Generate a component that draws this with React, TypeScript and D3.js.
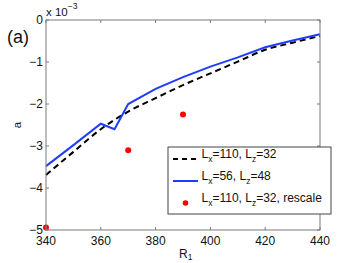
import React from "react";
import * as d3 from "d3";

const rValues = [340, 350, 360, 370, 380, 390, 400, 410, 420, 430, 440];
const dashedA = [-3.69, -3.14, -2.6, -2.18, -1.86, -1.55, -1.27, -0.99, -0.71, -0.54, -0.38];
const blueR = [340, 350, 360, 365, 370, 380, 390, 400, 410, 420, 430, 440];
const blueA = [-3.48, -2.98, -2.47, -2.6, -2.0, -1.64, -1.36, -1.11, -0.89, -0.65, -0.49, -0.34];
const dotR = [340, 370, 390];
const dotA = [-4.94, -3.1, -2.25];
const xTicks = [340, 360, 380, 400, 420, 440];
const yTicks = [0, -1, -2, -3, -4, -5];

const W = 354;
const H = 263;
const left = 46, right = 320, top = 20, bottom = 230;
const FONT = "'Liberation Sans', Arial, Helvetica, sans-serif";

export default function App() {
  const x = d3.scaleLinear().domain([340, 440]).range([left, right]);
  const y = d3.scaleLinear().domain([-5, 0]).range([bottom, top]);
  const lineDash = d3
    .line<number>()
    .x((_, i) => x(rValues[i]))
    .y((d) => y(d))
    .curve(d3.curveMonotoneX);
  const lineBlue = d3
    .line<number>()
    .x((_, i) => x(blueR[i]))
    .y((d) => y(d));
  const axisColor = "#7a7a7a";
  const textColor = "#111";
  const fmt = (v: number) => (v < 0 ? "\u2212" + Math.abs(v) : String(v));

  const legendRows = [
    { label: ["110", "32"], extra: "", kind: "dash" },
    { label: ["56", "48"], extra: "", kind: "blue" },
    { label: ["110", "32"], extra: ", rescale", kind: "dot" },
  ];
  const rowBase = [159, 181, 203];

  return (
    <svg width={W} height={H} style={{ position: "absolute", left: 0, top: 0, background: "#fff" }}>
      <rect x={0} y={0} width={W} height={H} fill="#fff" />
      {/* data */}
      <path d={lineDash(dashedA) || ""} fill="none" stroke="#000" strokeWidth={2} strokeDasharray="6,4" />
      <path d={lineBlue(blueA) || ""} fill="none" stroke="#1f3dff" strokeWidth={2} />
      {dotR.map((r, i) => (
        <circle key={i} cx={x(r)} cy={y(dotA[i])} r={3} fill="#ff0000" />
      ))}
      {/* axes box */}
      <rect x={left} y={top} width={right - left} height={bottom - top} fill="none" stroke={axisColor} strokeWidth={1} />
      {xTicks.map((t) => (
        <g key={"x" + t}>
          <line x1={x(t)} x2={x(t)} y1={bottom} y2={bottom - 3} stroke={axisColor} />
          <line x1={x(t)} x2={x(t)} y1={top} y2={top + 3} stroke={axisColor} />
          <text x={x(t)} y={245} fontSize={12} fontFamily={FONT} fill={textColor} textAnchor="middle">
            {t}
          </text>
        </g>
      ))}
      {yTicks.map((t) => (
        <g key={"y" + t}>
          <line x1={left} x2={left + 3} y1={y(t)} y2={y(t)} stroke={axisColor} />
          <line x1={right} x2={right - 3} y1={y(t)} y2={y(t)} stroke={axisColor} />
          <text x={43} y={y(t) + 4} fontSize={12} fontFamily={FONT} fill={textColor} textAnchor="end">
            {fmt(t)}
          </text>
        </g>
      ))}
      {/* exponent */}
      <text x={46} y={16} fontSize={11.5} fontFamily={FONT} fill={textColor}>
        x 10
        <tspan dy={-7} fontSize={8.5}>{"\u22123"}</tspan>
      </text>
      {/* panel label */}
      <text x={7} y={43} fontSize={18} fontFamily={FONT} fill={textColor}>
        (a)
      </text>
      {/* axis labels */}
      <text x={21} y={125} fontSize={11.5} fontFamily={FONT} fill={textColor} textAnchor="middle" transform="rotate(-90 21 125)">
        a
      </text>
      <text x={179} y={258} fontSize={12} fontFamily={FONT} fill={textColor}>
        R
        <tspan fontSize={8.5} dy={2}>1</tspan>
      </text>
      {/* legend */}
      <rect x={168} y={147} width={163} height={67} fill="#fff" stroke="#444" strokeWidth={1} />
      {legendRows.map((row, i) => {
        const yb = rowBase[i];
        return (
          <g key={"lg" + i}>
            {row.kind === "dash" && (
              <line x1={173} x2={198} y1={yb} y2={yb} stroke="#000" strokeWidth={2} strokeDasharray="5,4" />
            )}
            {row.kind === "blue" && <line x1={173} x2={198} y1={yb} y2={yb} stroke="#1f3dff" strokeWidth={2} />}
            {row.kind === "dot" && <circle cx={185.5} cy={yb} r={2.8} fill="#ff0000" />}
            <text x={201.5} y={yb - 1} fontSize={12} fontFamily={FONT} fill={textColor}>
              L
              <tspan fontSize={8.5} dy={4}>x</tspan>
              <tspan dy={-4}>{"=" + row.label[0] + ", L"}</tspan>
              <tspan fontSize={8.5} dy={4}>z</tspan>
              <tspan dy={-4}>{"=" + row.label[1] + row.extra}</tspan>
            </text>
          </g>
        );
      })}
    </svg>
  );
}
